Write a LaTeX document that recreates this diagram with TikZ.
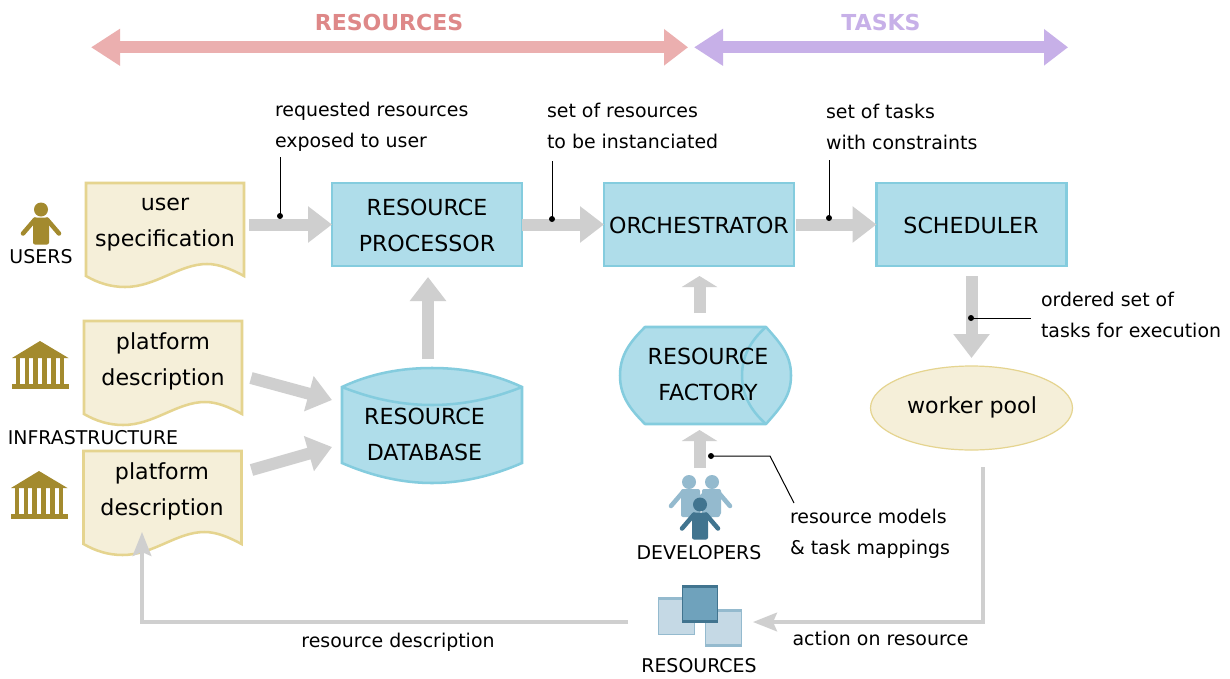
\documentclass[tikz,border=0pt]{standalone}
\usepackage{fontspec}
\setmainfont{DejaVu Sans}
\usetikzlibrary{arrows.meta,calc,shapes.geometric}
\definecolor{boxfill}{HTML}{AFDDEA}
\definecolor{boxline}{HTML}{84CCDE}
\definecolor{docfill}{HTML}{F5EFD9}
\definecolor{docline}{HTML}{E5D48F}
\definecolor{gold}{HTML}{A38A2E}
\definecolor{flow}{HTML}{CFCFCF}
\definecolor{resred}{HTML}{EBAFAF}
\definecolor{restext}{HTML}{DE8888}
\definecolor{taskpur}{HTML}{C7B0E8}
\definecolor{lightblue}{HTML}{94BACE}
\definecolor{darkblue}{HTML}{41748F}
\definecolor{paleblue}{HTML}{C5D9E5}
\definecolor{midblue}{HTML}{6FA2BC}
\def\pxu{0.75pt}
\tikzset{
  every node/.style={outer sep=0pt},
  big/.style={font=\fontsize{16.6}{27}\selectfont,align=center,inner sep=0pt},
  small/.style={font=\fontsize{14.2}{23.25}\selectfont,align=left,inner sep=0pt},
  icontext/.style={font=\fontsize{14.2}{23.25}\selectfont,inner sep=0pt},
  banner/.style={font=\fontsize{16.5}{20}\selectfont\bfseries,inner sep=0pt},
  procbox/.style={draw=boxline,fill=boxfill,line width=1.9pt,minimum width=190*\pxu,minimum height=83*\pxu,inner sep=0pt,big},
  region/.style n args={2}{minimum width=#1*\pxu,minimum height=#2*\pxu,inner sep=0pt},
  docshape/.style={draw=docline,fill=docfill,line width=1.9pt,line join=miter},
  dbshape/.style={draw=boxline,fill=boxfill,line width=1.9pt},
  blockarrow/.style={draw=flow,line width=9pt,-{Triangle[length=18pt,width=26.25pt]}},
  shortarrow/.style={draw=flow,line width=9pt,-{Triangle[length=8.25pt,width=26.25pt]}},
  thinflow/.style={draw=flow,line width=2.6pt,-{Stealth[length=18pt,width=14pt,inset=3pt]}},
  leader/.style={draw=black,line width=0.75pt},
  dot/.style={fill=black},
  wide/.style={draw=#1,line width=9pt,{Triangle[length=21.75pt,width=26.25pt]}-{Triangle[length=18pt,width=26.25pt]}},
}
\newcommand{\docpath}[1]{%
  \draw[docshape,shift={(#1.north west)}] (0,0) -- (158,0) -- (158,93)
    .. controls (145,86) and (133,81) .. (121,81)
    .. controls (93,81) and (70,104) .. (39,104)
    .. controls (25,104) and (12,100) .. (0,93) -- cycle;}
\newcommand{\templeicon}[2]{%
  \begin{scope}[shift={(#1,#2)}]
    \fill[gold] (0,17) -- (28,0) -- (56.5,17) -- cycle;
    \foreach \cx in {6,15,23.5,32.5,41.5,50}{\fill[gold] (\cx-2.1,17) rectangle (\cx+2.1,43);}
    \fill[gold] (0,43) rectangle (57,48);
  \end{scope}}
\newcommand{\personicon}[3]{%
  \begin{scope}[shift={(#1,#2)}]
    \draw[#3,line width=3.4pt,line cap=round] (-6,10) -- (-18,24);
    \draw[#3,line width=3.4pt,line cap=round] (6,10) -- (18,24);
    \fill[#3] (0,0) circle (7);
    \fill[#3,rounded corners=1.5pt] (-8,8) rectangle (8,35);
  \end{scope}}
\begin{document}
\begin{tikzpicture}[x=0.75pt,y=-0.75pt]
\useasboundingbox (0,0) rectangle (1230,678);
\fill[white] (0,0) rectangle (1230,678);

% banner
\node[banner,text=restext] (bres) at (389,22) {RESOURCES};
\node[banner,text=taskpur] (btask) at (881,22) {TASKS};
\coordinate (ra) at (91,47.3); \coordinate (rb) at (688,47.3);
\coordinate (ta) at (694,47.3); \coordinate (tb) at (1068,47.3);
\draw[wide=resred] (ra) -- (rb);
\draw[wide=taskpur] (ta) -- (tb);

% process boxes
\node[procbox] (rp) at (427,224.5) {};
\node[procbox] (orch) at (699,224.5) {};
\node[procbox] (sched) at (971.5,224.5) {};
\node[big] (rptext) at (427,225.5) {RESOURCE\\PROCESSOR};
\node[big] (orchtext) at (699,225.5) {ORCHESTRATOR};
\node[big] (schedtext) at (971,225.5) {SCHEDULER};

% documents
\node[region={158}{104}] (us) at (165,235) {};
\node[region={158}{104}] (pd1) at (163,373) {};
\node[region={158}{104}] (pd2) at (162.5,503) {};
\docpath{us}\docpath{pd1}\docpath{pd2}
\node[big] (ustext) at (165,224.5) {user\\specification};
\node[big] (pd1text) at (163,361) {platform\\description};
\node[big] (pd2text) at (162,491) {platform\\description};

% database
\node[region={180}{115}] (db) at (432,425.5) {};
\draw[dbshape,shift={(db.north west)}] (0,19)
   .. controls (30,5) and (60,0) .. (90,0) .. controls (120,0) and (150,5) .. (180,19)
   -- (180,95) .. controls (150,108) and (120,115) .. (90,115)
   .. controls (60,115) and (30,108) .. (0,95) -- cycle;
\draw[dbshape,shift={(db.north west)}] (0,19) .. controls (30,31) and (60,37) .. (90,37)
   .. controls (120,37) and (150,31) .. (180,19);
\node[big] (dbtext) at (424.5,434.5) {RESOURCE\\DATABASE};

% factory
\node[region={171}{97}] (fac) at (705.5,375.5) {};
\draw[dbshape,line join=round,shift={(fac.north west)}] (25,0) -- (146,0)
   .. controls (161,17) and (171,28) .. (171,48.5)
   .. controls (171,69) and (161,80) .. (146,97) -- (25,97)
   .. controls (10,82) and (0,69) .. (0,48.5)
   .. controls (0,28) and (10,15) .. (25,0) -- cycle;
\draw[dbshape,shift={(fac.north west)}] (146,0) .. controls (130,14) and (122,30) .. (122,48.5)
   .. controls (122,67) and (130,83) .. (146,97);
\node[big] (factext) at (708,374) {RESOURCE\\FACTORY};

% worker pool
\node[ellipse,draw=docline,fill=docfill,line width=0.9pt,minimum width=202*\pxu,minimum height=84*\pxu,inner sep=0pt,big] (wp) at (971.5,408) {};
\node[big] (wptext) at (972,407) {worker pool};

% icons
\personicon{41}{209.5}{gold}
\node[region={36}{45}] (usericon) at (41,224) {};
\node[icontext] (userslabel) at (41,257) {USERS};
\templeicon{12}{341}
\node[region={57}{48}] (temple1) at (40.5,365) {};
\node[icontext] (infra) at (93,438) {INFRASTRUCTURE};
\templeicon{11}{471}
\node[region={57}{48}] (temple2) at (39.5,495) {};

\personicon{689}{482}{lightblue}
\personicon{712}{482}{lightblue}
\fill[lightblue,rounded corners=1.5pt] (681,489) rectangle (700,515);
\fill[lightblue,rounded corners=1.5pt] (702,489) rectangle (721,515);
\personicon{700}{504.5}{darkblue}
\node[region={60}{64}] (devicon) at (701,507) {};
\node[icontext] (devlabel) at (699,553) {DEVELOPERS};

\node[region={84}{61}] (resicon) at (700,615.5) {};
\begin{scope}
  \fill[paleblue] (658,597) rectangle (695,635);
  \draw[lightblue,line width=0.9pt] (658.6,597.6) rectangle (694.4,634.4);
  \fill[lightblue] (658,596.5) rectangle (695,599.5);
  \fill[paleblue] (705,609) rectangle (742,646);
  \draw[lightblue,line width=0.9pt] (705.6,609.6) rectangle (741.4,645.4);
  \fill[lightblue] (705,608.5) rectangle (742,612);
  \fill[lightblue] (705,643.5) rectangle (742,646.5);
  \fill[midblue] (682,585) rectangle (718,623);
  \draw[darkblue,line width=1pt] (682.7,585.7) rectangle (717.3,622.3);
  \fill[darkblue] (682,584.5) rectangle (718,587.5);
  \fill[darkblue] (682,619.5) rectangle (718,623);
\end{scope}
\node[icontext] (reslabel) at (699,666) {RESOURCES};

% block arrows
\draw[blockarrow] ($(us.east |- rp.west)+(5,0)$) -- (rp.west);
\draw[blockarrow] (rp.east) -- (orch.west);
\draw[blockarrow] ($(orch.east)+(2,0)$) -- (sched.west);
\draw[blockarrow] ($(sched.south)+(0,10)$) -- ($(wp.north)+(0,-8)$);
\draw[blockarrow] ($(rp.south |- db.north)+(1,-9)$) -- ($(rp.south)+(1,11)$);
\draw[blockarrow] ($(pd1.east)+(9,5)$) -- ($(db.west)+(-10,-25.5)$);
\draw[blockarrow] ($(pd2.east)+(10,-33)$) -- ($(db.west)+(-10,21.5)$);
\draw[shortarrow] ($(orch.south |- fac.north)+(0.5,-14)$) -- ($(orch.south)+(0.5,10)$);
\draw[shortarrow] ($(orch.south |- devicon.north)+(0.5,-7)$) -- ($(orch.south |- fac.south)+(0.5,6)$);

% thin flows
\draw[thinflow] ($(wp.south)+(11.5,17)$) |- ($(resicon.east)+(11,6.5)$);
\draw[thinflow] ($(resicon.west)+(-30,6.5)$) -| ($(pd2.south)+(-20.5,-23)$);

% leaders
\coordinate (d1) at (280,216); \coordinate (e1) at (280,157);
\coordinate (d2) at (552,219); \coordinate (e2) at (552,161);
\coordinate (d3) at (829,218); \coordinate (e3) at (829,160);
\coordinate (d4) at (971,318); \coordinate (e4) at (1031,318);
\coordinate (d5) at (711,456); \coordinate (b5) at (770,456); \coordinate (e5) at (794,503);
\draw[leader] (d1) -- (e1);
\draw[leader] (d2) -- (e2);
\draw[leader] (d3) -- (e3);
\draw[leader] (d4) -- (e4);
\draw[leader] (d5) -- (b5) -- (e5);
\foreach \d in {d1,d2,d3,d4,d5}{\fill[dot] (\d) circle (3);}

% labels
\node[small,anchor=west] (l1) at (275,126.5) {requested resources\\exposed to user};
\node[small,anchor=west] (l2) at (547,126) {set of resources\\to be instanciated};
\node[small,anchor=west] (l3) at (826,126.5) {set of tasks\\with constraints};
\node[small,anchor=west] (l4) at (1041,314.5) {ordered set of\\tasks for execution};
\node[small,anchor=west] (l5) at (790,534) {resource models\\\& task mappings};
\node[icontext] (l6) at (398,642) {resource description};
\node[icontext] (l7) at (880.5,638) {action on resource};
\end{tikzpicture}
\end{document}
